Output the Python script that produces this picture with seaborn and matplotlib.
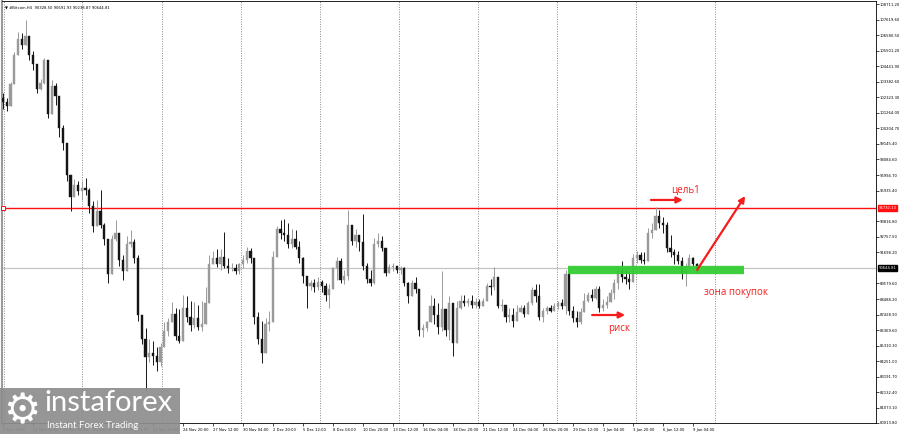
import numpy as np
import pandas as pd
import matplotlib
matplotlib.use("Agg")
import matplotlib.pyplot as plt
import seaborn as sns
from matplotlib.patches import Rectangle

# H8-sampled read of the BTC H4 chart, prices in thousands
first_open = 102.3
closes = [
    102.0, 101.7, 103.2, 105.2, 106.3, 105.9, 106.5, 105.2, 104.6, 102.9,
    103.3, 104.9, 101.2, 103.1, 102.4, 100.2, 99.2, 97.0, 95.5, 96.3,
    95.9, 96.1, 96.0, 94.9, 93.5, 94.5, 93.6, 92.6, 90.2, 92.6,
    93.0, 91.2, 90.4, 92.3, 92.4, 91.3, 87.4, 85.8, 84.5, 84.8,
    84.6, 84.2, 85.2, 86.3, 86.9, 87.5, 86.0, 85.6, 87.9, 87.3,
    86.7, 87.2, 86.6, 86.8, 88.2, 90.9, 91.3, 90.9, 91.4, 90.8,
    90.6, 90.6, 90.4, 90.9, 91.2, 91.8, 91.3, 87.3, 85.8, 84.8,
    86.8, 86.9, 91.4, 93.3, 93.0, 92.9, 92.3, 92.6, 92.1, 91.3,
    90.1, 89.4, 89.6, 89.3, 89.7, 89.4, 88.8, 89.2, 90.6, 91.1,
    89.8, 90.1, 93.6, 92.5, 92.9, 92.4, 90.8, 89.9, 89.6, 92.3,
    92.5, 92.0, 90.3, 90.7, 90.8, 90.5, 90.6, 89.6, 88.7, 89.6,
    89.2, 86.4, 86.5, 86.9, 88.0, 87.4, 86.6, 87.8, 86.4, 88.2,
    85.5, 87.9, 88.4, 88.2, 88.4, 88.1, 88.3, 88.0, 88.4, 89.4,
    89.3, 90.0, 88.0, 88.1, 87.3, 87.4, 87.0, 87.6, 87.9, 87.5,
    88.2, 89.1, 88.7, 87.3, 87.7, 87.9, 87.7, 88.0, 88.2, 88.0,
    90.2, 87.7, 87.2, 86.9, 87.6, 88.4, 88.8, 88.6, 89.2, 87.9,
    88.1, 88.3, 88.9, 89.6, 90.5, 90.0, 89.9, 89.7, 91.3, 91.5,
    91.2, 91.1, 93.0, 93.2, 94.2, 93.7, 93.6, 92.0, 91.7, 91.5,
    91.1, 90.3, 90.7, 91.3, 90.9, 90.645,
]
highs = [
    102.6, 102.3, 103.4, 105.4, 106.8, 106.7, 107.6, 106.2, 105.5, 104.4,
    103.6, 105.0, 104.8, 103.5, 103.3, 102.3, 100.4, 98.6, 96.5, 96.7,
    96.6, 96.6, 96.8, 96.1, 95.2, 95.3, 96.0, 93.7, 92.4, 92.9,
    93.9, 92.8, 91.5, 92.8, 93.2, 92.6, 91.5, 87.4, 86.5, 85.8,
    85.6, 85.2, 85.5, 86.9, 87.2, 88.3, 87.9, 87.8, 88.8, 88.7,
    88.4, 88.3, 88.1, 88.4, 89.3, 91.5, 91.8, 91.9, 91.9, 93.1,
    91.3, 91.0, 90.9, 91.0, 91.5, 92.1, 92.0, 91.3, 87.6, 87.0,
    87.2, 87.7, 91.8, 93.5, 93.9, 94.0, 93.7, 93.3, 93.2, 92.5,
    91.4, 89.9, 89.8, 89.9, 90.0, 89.8, 89.6, 89.5, 90.7, 91.4,
    91.3, 90.5, 94.6, 93.6, 93.3, 92.9, 94.3, 91.0, 90.5, 92.7,
    93.0, 92.8, 91.9, 90.9, 91.0, 90.8, 90.8, 90.7, 89.7, 89.8,
    90.0, 89.2, 86.8, 87.0, 88.8, 88.6, 88.2, 90.4, 87.3, 88.7,
    87.6, 88.4, 88.8, 88.8, 88.6, 88.8, 88.6, 88.5, 88.6, 89.6,
    89.9, 90.7, 89.9, 88.5, 88.1, 87.9, 87.9, 88.1, 88.1, 88.1,
    88.4, 89.3, 89.5, 89.5, 87.9, 88.0, 88.1, 88.2, 88.4, 88.5,
    90.5, 90.5, 88.0, 87.7, 87.9, 88.9, 89.0, 89.2, 89.4, 89.4,
    88.5, 88.7, 89.2, 89.9, 90.7, 91.1, 90.5, 90.4, 91.6, 91.8,
    91.7, 91.7, 93.4, 93.7, 94.8, 94.6, 94.1, 93.8, 92.9, 91.9,
    91.8, 91.4, 91.0, 91.6, 91.4, 91.0,
]
lows = [
    101.5, 101.4, 101.9, 103.6, 105.4, 105.6, 105.9, 104.9, 104.2, 102.6,
    102.8, 103.2, 100.9, 101.8, 101.8, 99.6, 98.7, 96.6, 94.5, 95.5,
    95.6, 95.3, 95.6, 94.4, 93.1, 93.8, 93.4, 92.2, 89.6, 91.5,
    92.5, 90.8, 89.8, 91.2, 92.1, 91.0, 87.0, 85.4, 82.3, 84.2,
    84.0, 83.6, 83.9, 85.3, 86.0, 87.1, 85.7, 85.5, 87.0, 86.9,
    86.3, 86.5, 86.4, 86.3, 86.8, 88.8, 90.9, 90.7, 90.5, 90.6,
    90.3, 90.4, 90.2, 90.2, 90.6, 91.0, 91.0, 86.8, 85.4, 84.1,
    86.3, 86.3, 87.6, 91.8, 92.6, 92.5, 92.0, 92.0, 91.9, 91.0,
    89.6, 87.9, 89.1, 89.0, 89.1, 89.0, 88.4, 87.9, 89.4, 89.8,
    89.6, 89.5, 89.8, 92.2, 92.1, 91.8, 90.5, 89.6, 89.4, 89.5,
    92.1, 91.8, 90.1, 90.3, 90.4, 90.3, 90.2, 89.4, 88.2, 88.9,
    88.9, 86.0, 85.9, 86.3, 86.9, 86.8, 86.1, 86.3, 86.0, 85.7,
    84.6, 86.8, 87.8, 88.0, 88.0, 87.9, 87.9, 87.9, 88.0, 88.4,
    88.8, 89.1, 87.9, 87.7, 86.9, 86.9, 86.6, 87.5, 87.6, 87.3,
    87.6, 88.1, 88.3, 87.1, 86.9, 87.5, 87.6, 87.7, 87.8, 87.8,
    87.5, 87.4, 86.9, 86.6, 86.8, 87.7, 88.3, 88.4, 88.5, 87.6,
    87.7, 87.9, 88.3, 88.5, 89.2, 89.7, 89.5, 89.2, 89.7, 91.0,
    91.0, 90.9, 91.3, 92.7, 93.6, 93.4, 93.0, 91.7, 91.4, 90.9,
    90.9, 89.9, 89.4, 90.7, 90.7, 90.3,
]

price_ticks = [108711.20, 107619.60, 106580.50, 105501.20, 104441.90, 103382.60,
               102323.30, 101264.00, 100204.70, 99145.40, 98084.60, 96994.70,
               95935.40, 93816.80, 92757.50, 91698.20, 89579.60, 88488.20,
               87428.90, 86369.60, 85310.30, 84251.00, 83191.70, 82132.40,
               81073.10, 80013.80]
date_labels = ["8 Nov 2024", "11 Nov 12:00", "14 Nov 04:00", "16 Nov 20:00",
               "19 Nov 12:00", "22 Nov 04:00", "24 Nov 20:00", "27 Nov 12:00",
               "30 Nov 04:00", "2 Dec 20:00", "5 Dec 12:00", "8 Dec 04:00",
               "10 Dec 20:00", "13 Dec 12:00", "16 Dec 04:00", "18 Dec 20:00",
               "21 Dec 12:00", "24 Dec 04:00", "26 Dec 20:00", "29 Dec 12:00",
               "1 Jan 04:00", "3 Jan 20:00", "6 Jan 12:00", "9 Jan 04:00"]
target_level = 94730.13
last_price = 90644.81
buy_zone = 90490.0

df = pd.DataFrame({"close": closes, "high": highs, "low": lows}) * 1000
df["open"] = [first_open * 1000] + list(df["close"].iloc[:-1])
df["high"] = np.maximum(df["high"], df[["open", "close"]].max(axis=1))
df["low"] = np.minimum(df["low"], df[["open", "close"]].min(axis=1))
df["bar"] = np.arange(len(df))
df["up"] = df["close"] >= df["open"]

sns.set_theme(style="white")
plt.rcParams["font.family"] = ["DejaVu Sans"]
tiny = 2.7

fig = plt.figure(figsize=(9, 4.34), dpi=100)
ax = fig.add_axes([2 / 900, 1 - 423 / 434, 874 / 900, 422 / 434])

# vertical dotted grid
for gx in [0.3, 21.1, 42.3, 63.5, 84.5, 105.6, 126.7, 147.7, 168.8, 189.9]:
    ax.axvline(gx, color="#8a8a8a", lw=0.7, ls=(0, (1, 1.5)), zorder=1)

ax.axhline(last_price, color="#c4c4c4", lw=0.9, zorder=1)
ax.axhline(target_level, color="#ff1010", lw=1.0, zorder=2)
ax.plot([0.1], [target_level], marker="s", ms=2.5, mfc="white", mec="#ff1010",
        mew=0.7, zorder=3, clip_on=False)

colors = np.where(df["up"], "#9a9a9a", "#151515")
ax.vlines(df["bar"], df["low"], df["high"], colors=colors, lw=0.7, zorder=3)
body_lo = df[["open", "close"]].min(axis=1)
body_h = (df["close"] - df["open"]).abs().clip(lower=30)
ax.bar(df["bar"], body_h, bottom=body_lo, width=0.62, color=colors,
       edgecolor=colors, linewidth=0.3, zorder=4)

# buy zone band and arrows
red = "#f51c1c"
ax.plot([150.7, 197.6], [buy_zone, buy_zone], color="#33cc33", lw=6,
        solid_capstyle="butt", alpha=0.95, zorder=5)
arrow = dict(arrowstyle="-|>", color=red, lw=1.6, mutation_scale=9,
             shrinkA=0, shrinkB=0)
ax.annotate("", xy=(181.3, 95290), xytext=(172.8, 95290), arrowprops=arrow, zorder=6)
ax.annotate("", xy=(165.9, 87410), xytext=(157.1, 87410), arrowprops=arrow, zorder=6)
ax.annotate("", xy=(197.9, 95560), xytext=(185.1, 90500), arrowprops=arrow, zorder=6)
ax.text(182.1, 95970, "цель1", color=red, fontsize=7, ha="center", va="center",
        family=["Open Sans", "DejaVu Sans"])
ax.text(164.3, 86520, "риск", color=red, fontsize=7, ha="center", va="center",
        family=["Open Sans", "DejaVu Sans"])
ax.text(195.5, 88920, "зона покупок", color=red, fontsize=7, ha="center",
        va="center", family=["Open Sans", "DejaVu Sans"])

ax.set_xlim(-0.267, 232.8)
ax.set_ylim(80013.8, 108917)

ax.yaxis.tick_right()
ax.set_yticks(price_ticks)
ax.set_yticklabels([f"{v:.2f}" for v in price_ticks])
ax.set_xticks(np.arange(0, 8 * len(date_labels), 8))
ax.set_xticklabels(date_labels, ha="left")
ax.tick_params(axis="y", direction="out", length=2, width=0.5, pad=0.8,
               labelsize=tiny, colors="black", right=True, left=False)
ax.tick_params(axis="x", direction="out", length=2, width=0.5, pad=1.5,
               labelsize=tiny, colors="black", bottom=True)
for s in ["top", "left", "bottom", "right"]:
    ax.spines[s].set_color("black")
    ax.spines[s].set_linewidth(0.6)
ax.spines["left"].set_color("#9a9a9a")
ax.spines["left"].set_linewidth(1.5)

# price labels on the axis
ax.annotate(f"{target_level:.2f}", xy=(1.003, target_level),
            xycoords=("axes fraction", "data"), fontsize=tiny, color="white",
            va="center", ha="left", annotation_clip=False,
            bbox=dict(boxstyle="square,pad=0.25", fc="#ff1010", ec="#ff1010"))
ax.annotate(f"{last_price:.2f}", xy=(1.003, last_price),
            xycoords=("axes fraction", "data"), fontsize=tiny, color="white",
            va="center", ha="left", annotation_clip=False,
            bbox=dict(boxstyle="square,pad=0.25", fc="black", ec="black"))

ax.text(0.004, 0.99, "▼ #Bitcoin,H4  90328.50 90691.93 90238.87 90644.81",
        transform=ax.transAxes, fontsize=tiny, va="top", ha="left", color="black")

# logo
fig.patches.append(Rectangle((0, 0), 180 / 900, 46 / 434, transform=fig.transFigure,
                             fc="#8e8e8e", ec="none", alpha=0.93, zorder=10))
fig.text(22 / 900, 1 - 411 / 434, "⚙", fontsize=30, color="white", ha="center",
         va="center", zorder=11)
fig.text(44 / 900, 1 - 403 / 434, "instaforex", fontsize=21, color="white",
         ha="left", va="center", family=["Lato", "DejaVu Sans"], zorder=11)
fig.text(47 / 900, 1 - 426 / 434, "Instant Forex Trading", fontsize=7,
         color="white", ha="left", va="center", family=["Lato", "DejaVu Sans"],
         zorder=11)

fig.savefig("out.png", dpi=100, facecolor="white")
